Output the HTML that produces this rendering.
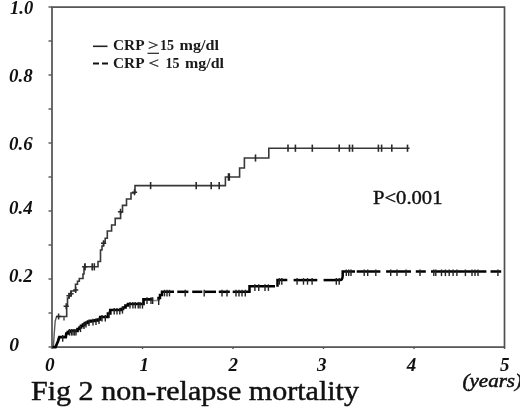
<!DOCTYPE html>
<html><head><meta charset="utf-8">
<style>
html,body{margin:0;padding:0;background:#fff;}
body{width:520px;height:420px;position:relative;overflow:hidden;}
svg{position:absolute;left:0;top:0;font-family:"Liberation Serif",serif;will-change:transform;}
.d{stroke:#000;stroke-width:2.5;}
</style></head><body>
<svg width="520" height="420" viewBox="0 0 520 420">
<rect x="52" y="7.1" width="452.5" height="340" fill="none" stroke="#505050" stroke-width="1.7"/>
<line x1="48.5" y1="347" x2="52" y2="347" stroke="#555" stroke-width="1.4"/>
<line x1="48.5" y1="313" x2="52" y2="313" stroke="#555" stroke-width="1.4"/>
<line x1="48.5" y1="279" x2="52" y2="279" stroke="#555" stroke-width="1.4"/>
<line x1="48.5" y1="245" x2="52" y2="245" stroke="#555" stroke-width="1.4"/>
<line x1="48.5" y1="211" x2="52" y2="211" stroke="#555" stroke-width="1.4"/>
<line x1="48.5" y1="177" x2="52" y2="177" stroke="#555" stroke-width="1.4"/>
<line x1="48.5" y1="143" x2="52" y2="143" stroke="#555" stroke-width="1.4"/>
<line x1="48.5" y1="109" x2="52" y2="109" stroke="#555" stroke-width="1.4"/>
<line x1="48.5" y1="75" x2="52" y2="75" stroke="#555" stroke-width="1.4"/>
<line x1="48.5" y1="41" x2="52" y2="41" stroke="#555" stroke-width="1.4"/>
<line x1="48.5" y1="7" x2="52" y2="7" stroke="#555" stroke-width="1.4"/>
<line x1="52.0" y1="347" x2="52.0" y2="349" stroke="#555" stroke-width="1.4"/>
<line x1="142.5" y1="347" x2="142.5" y2="349" stroke="#555" stroke-width="1.4"/>
<line x1="233.0" y1="347" x2="233.0" y2="349" stroke="#555" stroke-width="1.4"/>
<line x1="323.5" y1="347" x2="323.5" y2="349" stroke="#555" stroke-width="1.4"/>
<line x1="414.0" y1="347" x2="414.0" y2="349" stroke="#555" stroke-width="1.4"/>
<line x1="504.5" y1="347" x2="504.5" y2="349" stroke="#555" stroke-width="1.4"/>
<path d="M53.4 347 L54.2 334 L55.2 321 L56.6 316.5" fill="none" stroke="#5a5a5a" stroke-width="1.4"/>
<path d="M56.6 316.5 H66.7 V306.2 H67.5 V298 H69 V295.5 H71 V291 H75.5 V284.3 H77.5 V281.3 H79.3 V278.5 H83 V274 H84 V266.8 H98 V261.5 H100.5 V250 H102 V246 H103.5 V242 H105.2 V238.3 H107.3 V231 H111.6 V225 H115.2 V218.4 H120.6 V212 H122.5 V205.4 H126.5 V199 H131 V193 H135 V185.6 H225.4 V177 H239.6 V168 H244.4 V158 H268.8 V148.2 H409.6" fill="none" stroke="#383838" stroke-width="1.6" stroke-linejoin="miter"/>
<line x1="228.9" y1="173.4" x2="228.9" y2="180.6" stroke="#111" stroke-width="2.4"/>
<line x1="85" y1="263.2" x2="85" y2="270.40000000000003" stroke="#2a2a2a" stroke-width="1.6"/>
<line x1="92.2" y1="263.2" x2="92.2" y2="270.40000000000003" stroke="#2a2a2a" stroke-width="1.6"/>
<line x1="94.3" y1="263.2" x2="94.3" y2="270.40000000000003" stroke="#2a2a2a" stroke-width="1.6"/>
<line x1="150.6" y1="182.0" x2="150.6" y2="189.2" stroke="#2a2a2a" stroke-width="1.6"/>
<line x1="196.2" y1="182.0" x2="196.2" y2="189.2" stroke="#2a2a2a" stroke-width="1.6"/>
<line x1="211.2" y1="182.0" x2="211.2" y2="189.2" stroke="#2a2a2a" stroke-width="1.6"/>
<line x1="219.2" y1="182.0" x2="219.2" y2="189.2" stroke="#2a2a2a" stroke-width="1.6"/>
<line x1="228.9" y1="173.4" x2="228.9" y2="180.6" stroke="#2a2a2a" stroke-width="1.6"/>
<line x1="255.5" y1="154.4" x2="255.5" y2="161.6" stroke="#2a2a2a" stroke-width="1.6"/>
<line x1="288" y1="144.6" x2="288" y2="151.79999999999998" stroke="#2a2a2a" stroke-width="1.6"/>
<line x1="295.4" y1="144.6" x2="295.4" y2="151.79999999999998" stroke="#2a2a2a" stroke-width="1.6"/>
<line x1="312.3" y1="144.6" x2="312.3" y2="151.79999999999998" stroke="#2a2a2a" stroke-width="1.6"/>
<line x1="339.2" y1="144.6" x2="339.2" y2="151.79999999999998" stroke="#2a2a2a" stroke-width="1.6"/>
<line x1="349.5" y1="144.6" x2="349.5" y2="151.79999999999998" stroke="#2a2a2a" stroke-width="1.6"/>
<line x1="352.5" y1="144.6" x2="352.5" y2="151.79999999999998" stroke="#2a2a2a" stroke-width="1.6"/>
<line x1="378.4" y1="144.6" x2="378.4" y2="151.79999999999998" stroke="#2a2a2a" stroke-width="1.6"/>
<line x1="381.6" y1="144.6" x2="381.6" y2="151.79999999999998" stroke="#2a2a2a" stroke-width="1.6"/>
<line x1="391.8" y1="144.6" x2="391.8" y2="151.79999999999998" stroke="#2a2a2a" stroke-width="1.6"/>
<line x1="407.5" y1="144.6" x2="407.5" y2="151.79999999999998" stroke="#2a2a2a" stroke-width="1.6"/>
<line x1="64" y1="316.5" x2="64" y2="320.5" stroke="#444" stroke-width="1.4"/>
<path d="M56.0 316.6H61.2M58.6 313.6V319.6" stroke="#2a2a2a" stroke-width="1.5"/>
<path d="M63.6 306.2H68.8M66.2 303.2V309.2" stroke="#2a2a2a" stroke-width="1.5"/>
<path d="M66.4 295.7H71.6M69 292.7V298.7" stroke="#2a2a2a" stroke-width="1.5"/>
<path d="M68.4 293.8H73.6M71 290.8V296.8" stroke="#2a2a2a" stroke-width="1.5"/>
<path d="M73.10000000000001 290H78.3M75.7 287V293" stroke="#2a2a2a" stroke-width="1.5"/>
<path d="M82.10000000000001 266.8H87.3M84.7 263.8V269.8" stroke="#2a2a2a" stroke-width="1.5"/>
<path d="M101.0 243.2H106.19999999999999M103.6 240.2V246.2" stroke="#2a2a2a" stroke-width="1.5"/>
<path d="M117.9 211.8H123.1M120.5 208.8V214.8" stroke="#2a2a2a" stroke-width="1.5"/>
<path d="M131.9 192.2H137.1M134.5 189.2V195.2" stroke="#2a2a2a" stroke-width="1.5"/>
<path d="M52.5 347.2 H55.5 L58.1 341 L59 338 L59.3 337.1 H65.8 L66.3 333.5 H67.8 V332 H69.5 V331 H77.5 V329 H79.5 V327.5 H81 V325.8 H83 V324.5 H85 V323 H88 V321.5 H91 V320.8 H95 V320.3 H98 V319.5 H100.3 V317 H108 V313.5 H110.3 V310 H121 V309 H123 V307.5 H125.5 V305.5 H128 V304 H143.5 V299.3 H153.1" fill="none" stroke="#000" stroke-width="2.7"/>
<path d="M158.5 300.5 V298 H160 V295 H162 V291.8 H174" fill="none" stroke="#000" stroke-width="2.5"/>
<path d="M246 291.8 H249.5 V286.3 H275" fill="none" stroke="#000" stroke-width="2.5"/>
<path d="M277.5 286.8 V280.1 H287.3" fill="none" stroke="#000" stroke-width="2.5"/>
<path d="M337 280.1 H340.3 Q342.5 280 342.7 276 V271.5 H355" fill="none" stroke="#000" stroke-width="2.5"/>
<line x1="177.3" y1="291.8" x2="188.4" y2="291.8" class="d"/><line x1="192.2" y1="291.8" x2="202.3" y2="291.8" class="d"/><line x1="205" y1="291.8" x2="216" y2="291.8" class="d"/><line x1="218.8" y1="291.8" x2="229.8" y2="291.8" class="d"/><line x1="232.7" y1="291.8" x2="246" y2="291.8" class="d"/><line x1="293.6" y1="280.1" x2="317.3" y2="280.1" class="d"/><line x1="323.6" y1="280.1" x2="337" y2="280.1" class="d"/><line x1="356.7" y1="271.5" x2="380.4" y2="271.5" class="d"/><line x1="386.1" y1="271.5" x2="411" y2="271.5" class="d"/><line x1="415.8" y1="271.5" x2="425.8" y2="271.5" class="d"/><line x1="431" y1="271.5" x2="486.4" y2="271.5" class="d"/><line x1="490.5" y1="271.5" x2="501.2" y2="271.5" class="d"/>
<line x1="153.1" y1="300.5" x2="158.5" y2="300.5" stroke="#888" stroke-width="1.5"/>
<line x1="62.7" y1="335.1" x2="62.7" y2="341.70000000000005" stroke="#222" stroke-width="1.4"/>
<line x1="69.5" y1="329" x2="69.5" y2="335.6" stroke="#222" stroke-width="1.4"/>
<line x1="71.5" y1="329" x2="71.5" y2="335.6" stroke="#222" stroke-width="1.4"/>
<line x1="73" y1="329" x2="73" y2="335.6" stroke="#222" stroke-width="1.4"/>
<line x1="74.5" y1="329" x2="74.5" y2="335.6" stroke="#222" stroke-width="1.4"/>
<line x1="76" y1="329" x2="76" y2="335.6" stroke="#222" stroke-width="1.4"/>
<line x1="80.5" y1="325.5" x2="80.5" y2="332.1" stroke="#222" stroke-width="1.4"/>
<line x1="84" y1="322.5" x2="84" y2="329.1" stroke="#222" stroke-width="1.4"/>
<line x1="86" y1="321" x2="86" y2="327.6" stroke="#222" stroke-width="1.4"/>
<line x1="89" y1="319.5" x2="89" y2="326.1" stroke="#222" stroke-width="1.4"/>
<line x1="93" y1="318.8" x2="93" y2="325.40000000000003" stroke="#222" stroke-width="1.4"/>
<line x1="96" y1="318.3" x2="96" y2="324.90000000000003" stroke="#222" stroke-width="1.4"/>
<line x1="99" y1="317.5" x2="99" y2="324.1" stroke="#222" stroke-width="1.4"/>
<line x1="102" y1="315" x2="102" y2="321.6" stroke="#222" stroke-width="1.4"/>
<line x1="105.3" y1="315" x2="105.3" y2="321.6" stroke="#222" stroke-width="1.4"/>
<line x1="109" y1="311.5" x2="109" y2="318.1" stroke="#222" stroke-width="1.4"/>
<line x1="114.2" y1="308" x2="114.2" y2="314.6" stroke="#222" stroke-width="1.4"/>
<line x1="117" y1="308" x2="117" y2="314.6" stroke="#222" stroke-width="1.4"/>
<line x1="119.8" y1="308" x2="119.8" y2="314.6" stroke="#222" stroke-width="1.4"/>
<line x1="122.5" y1="307" x2="122.5" y2="313.6" stroke="#222" stroke-width="1.4"/>
<line x1="130" y1="302" x2="130" y2="308.6" stroke="#222" stroke-width="1.4"/>
<line x1="132.9" y1="302" x2="132.9" y2="308.6" stroke="#222" stroke-width="1.4"/>
<line x1="135.3" y1="302" x2="135.3" y2="308.6" stroke="#222" stroke-width="1.4"/>
<line x1="138.2" y1="302" x2="138.2" y2="308.6" stroke="#222" stroke-width="1.4"/>
<line x1="140" y1="302" x2="140" y2="308.6" stroke="#222" stroke-width="1.4"/>
<line x1="142.5" y1="302" x2="142.5" y2="308.6" stroke="#222" stroke-width="1.4"/>
<line x1="147" y1="297.3" x2="147" y2="303.90000000000003" stroke="#222" stroke-width="1.4"/>
<line x1="151" y1="297.3" x2="151" y2="303.90000000000003" stroke="#222" stroke-width="1.4"/>
<line x1="152.7" y1="297.3" x2="152.7" y2="303.90000000000003" stroke="#222" stroke-width="1.4"/>
<line x1="158.7" y1="298.5" x2="158.7" y2="305.1" stroke="#222" stroke-width="1.4"/>
<line x1="164.5" y1="289.8" x2="164.5" y2="296.40000000000003" stroke="#222" stroke-width="1.4"/>
<line x1="167" y1="289.8" x2="167" y2="296.40000000000003" stroke="#222" stroke-width="1.4"/>
<line x1="169.5" y1="289.8" x2="169.5" y2="296.40000000000003" stroke="#222" stroke-width="1.4"/>
<line x1="185.2" y1="289.8" x2="185.2" y2="296.40000000000003" stroke="#222" stroke-width="1.4"/>
<line x1="204.2" y1="289.8" x2="204.2" y2="296.40000000000003" stroke="#222" stroke-width="1.4"/>
<line x1="222" y1="289.8" x2="222" y2="296.40000000000003" stroke="#222" stroke-width="1.4"/>
<line x1="227" y1="289.8" x2="227" y2="296.40000000000003" stroke="#222" stroke-width="1.4"/>
<line x1="236" y1="289.8" x2="236" y2="296.40000000000003" stroke="#222" stroke-width="1.4"/>
<line x1="239" y1="289.8" x2="239" y2="296.40000000000003" stroke="#222" stroke-width="1.4"/>
<line x1="242" y1="289.8" x2="242" y2="296.40000000000003" stroke="#222" stroke-width="1.4"/>
<line x1="245.3" y1="289.8" x2="245.3" y2="296.40000000000003" stroke="#222" stroke-width="1.4"/>
<line x1="254.9" y1="284.3" x2="254.9" y2="290.90000000000003" stroke="#222" stroke-width="1.4"/>
<line x1="258.75" y1="284.3" x2="258.75" y2="290.90000000000003" stroke="#222" stroke-width="1.4"/>
<line x1="265" y1="284.3" x2="265" y2="290.90000000000003" stroke="#222" stroke-width="1.4"/>
<line x1="268.4" y1="284.3" x2="268.4" y2="290.90000000000003" stroke="#222" stroke-width="1.4"/>
<line x1="279.4" y1="278.1" x2="279.4" y2="284.70000000000005" stroke="#222" stroke-width="1.4"/>
<line x1="281.8" y1="278.1" x2="281.8" y2="284.70000000000005" stroke="#222" stroke-width="1.4"/>
<line x1="297.1" y1="278.1" x2="297.1" y2="284.70000000000005" stroke="#222" stroke-width="1.4"/>
<line x1="303.5" y1="278.1" x2="303.5" y2="284.70000000000005" stroke="#222" stroke-width="1.4"/>
<line x1="307.5" y1="278.1" x2="307.5" y2="284.70000000000005" stroke="#222" stroke-width="1.4"/>
<line x1="312.1" y1="278.1" x2="312.1" y2="284.70000000000005" stroke="#222" stroke-width="1.4"/>
<line x1="336.3" y1="278.1" x2="336.3" y2="284.70000000000005" stroke="#222" stroke-width="1.4"/>
<line x1="339.2" y1="278.1" x2="339.2" y2="284.70000000000005" stroke="#222" stroke-width="1.4"/>
<line x1="346.3" y1="269.5" x2="346.3" y2="276.1" stroke="#222" stroke-width="1.4"/>
<line x1="348.7" y1="269.5" x2="348.7" y2="276.1" stroke="#222" stroke-width="1.4"/>
<line x1="351" y1="269.5" x2="351" y2="276.1" stroke="#222" stroke-width="1.4"/>
<line x1="364.2" y1="269.5" x2="364.2" y2="276.1" stroke="#222" stroke-width="1.4"/>
<line x1="367.7" y1="269.5" x2="367.7" y2="276.1" stroke="#222" stroke-width="1.4"/>
<line x1="375.8" y1="269.5" x2="375.8" y2="276.1" stroke="#222" stroke-width="1.4"/>
<line x1="390.7" y1="269.5" x2="390.7" y2="276.1" stroke="#222" stroke-width="1.4"/>
<line x1="397" y1="269.5" x2="397" y2="276.1" stroke="#222" stroke-width="1.4"/>
<line x1="406" y1="269.5" x2="406" y2="276.1" stroke="#222" stroke-width="1.4"/>
<line x1="420" y1="269.5" x2="420" y2="276.1" stroke="#222" stroke-width="1.4"/>
<line x1="433.8" y1="269.5" x2="433.8" y2="276.1" stroke="#222" stroke-width="1.4"/>
<line x1="435.8" y1="269.5" x2="435.8" y2="276.1" stroke="#222" stroke-width="1.4"/>
<line x1="441.5" y1="269.5" x2="441.5" y2="276.1" stroke="#222" stroke-width="1.4"/>
<line x1="445.4" y1="269.5" x2="445.4" y2="276.1" stroke="#222" stroke-width="1.4"/>
<line x1="449.2" y1="269.5" x2="449.2" y2="276.1" stroke="#222" stroke-width="1.4"/>
<line x1="453.1" y1="269.5" x2="453.1" y2="276.1" stroke="#222" stroke-width="1.4"/>
<line x1="456.9" y1="269.5" x2="456.9" y2="276.1" stroke="#222" stroke-width="1.4"/>
<line x1="465.4" y1="269.5" x2="465.4" y2="276.1" stroke="#222" stroke-width="1.4"/>
<line x1="472" y1="269.5" x2="472" y2="276.1" stroke="#222" stroke-width="1.4"/>
<line x1="475" y1="269.5" x2="475" y2="276.1" stroke="#222" stroke-width="1.4"/>
<line x1="478" y1="269.5" x2="478" y2="276.1" stroke="#222" stroke-width="1.4"/>
<line x1="497.9" y1="269.5" x2="497.9" y2="276.1" stroke="#222" stroke-width="1.4"/>
<line x1="93" y1="46.3" x2="107.5" y2="46.3" stroke="#222" stroke-width="1.6"/>
<line x1="93" y1="63.5" x2="99" y2="63.5" stroke="#111" stroke-width="2"/>
<line x1="102" y1="63.5" x2="108" y2="63.5" stroke="#111" stroke-width="2"/>
<text x="10" y="13.8" font-size="18" font-weight="bold" font-style="italic" fill="#111" textLength="23.175" lengthAdjust="spacingAndGlyphs">1.0</text>
<text x="9" y="81.6" font-size="18" font-weight="bold" font-style="italic" fill="#111" textLength="23.625" lengthAdjust="spacingAndGlyphs">0.8</text>
<text x="9" y="149.6" font-size="18" font-weight="bold" font-style="italic" fill="#111" textLength="23.625" lengthAdjust="spacingAndGlyphs">0.6</text>
<text x="9" y="213.8" font-size="18" font-weight="bold" font-style="italic" fill="#111" textLength="23.625" lengthAdjust="spacingAndGlyphs">0.4</text>
<text x="9" y="281.6" font-size="18" font-weight="bold" font-style="italic" fill="#111" textLength="23.625" lengthAdjust="spacingAndGlyphs">0.2</text>
<text x="9.2" y="351" font-size="18" font-weight="bold" font-style="italic" fill="#111" textLength="9.8" lengthAdjust="spacingAndGlyphs">0</text>
<text x="45" y="371.4" font-size="18" font-weight="bold" font-style="italic" fill="#111" textLength="9.6" lengthAdjust="spacingAndGlyphs">0</text>
<text x="139.5" y="371.4" font-size="18" font-weight="bold" font-style="italic" fill="#111" textLength="9.5" lengthAdjust="spacingAndGlyphs">1</text>
<text x="228.5" y="371.4" font-size="18" font-weight="bold" font-style="italic" fill="#111" textLength="9.5" lengthAdjust="spacingAndGlyphs">2</text>
<text x="317" y="371.4" font-size="18" font-weight="bold" font-style="italic" fill="#111" textLength="9.5" lengthAdjust="spacingAndGlyphs">3</text>
<text x="406.7" y="371.4" font-size="18" font-weight="bold" font-style="italic" fill="#111" textLength="9.5" lengthAdjust="spacingAndGlyphs">4</text>
<text x="500.1" y="371.4" font-size="18" font-weight="bold" font-style="italic" fill="#111" textLength="9.5" lengthAdjust="spacingAndGlyphs">5</text>
<text x="462.5" y="387.2" font-size="18" font-weight="normal" font-style="italic" fill="#111" textLength="59.5" lengthAdjust="spacingAndGlyphs" stroke="#111" stroke-width="0.5">(years)</text>
<text x="113" y="49.6" font-size="14.6" font-weight="bold" font-style="normal" fill="#1a1a1a" textLength="31.5" lengthAdjust="spacingAndGlyphs">CRP</text>
<text x="148" y="49.8" font-size="14.6" font-weight="normal" font-style="normal" fill="#1a1a1a" textLength="10.5" lengthAdjust="spacingAndGlyphs" stroke="#1a1a1a" stroke-width="0.3">&gt;</text>
<text x="160" y="49.6" font-size="14.6" font-weight="bold" font-style="normal" fill="#1a1a1a" textLength="14" lengthAdjust="spacingAndGlyphs">15</text>
<text x="179.5" y="49.6" font-size="14.6" font-weight="bold" font-style="normal" fill="#1a1a1a" textLength="39.5" lengthAdjust="spacingAndGlyphs">mg/dl</text>
<line x1="147.5" y1="53.3" x2="159" y2="53.3" stroke="#222" stroke-width="1.2"/>
<text x="113" y="67.5" font-size="14.6" font-weight="bold" font-style="normal" fill="#1a1a1a" textLength="31.5" lengthAdjust="spacingAndGlyphs">CRP</text>
<text x="148.5" y="67.8" font-size="14.6" font-weight="normal" font-style="normal" fill="#1a1a1a" textLength="10.5" lengthAdjust="spacingAndGlyphs" stroke="#1a1a1a" stroke-width="0.3">&lt;</text>
<text x="165.4" y="67.5" font-size="14.6" font-weight="bold" font-style="normal" fill="#1a1a1a" textLength="14" lengthAdjust="spacingAndGlyphs">15</text>
<text x="185" y="67.5" font-size="14.6" font-weight="bold" font-style="normal" fill="#1a1a1a" textLength="39" lengthAdjust="spacingAndGlyphs">mg/dl</text>
<text x="373" y="204.2" font-size="19.2" font-weight="normal" font-style="normal" fill="#111" textLength="69.5" lengthAdjust="spacingAndGlyphs" stroke="#111" stroke-width="0.4">P&lt;0.001</text>
<text x="31" y="399.5" font-size="27" font-weight="normal" font-style="normal" fill="#111" textLength="328" lengthAdjust="spacingAndGlyphs" stroke="#111" stroke-width="0.45">Fig 2 non-relapse mortality</text>
</svg>
</body></html>
